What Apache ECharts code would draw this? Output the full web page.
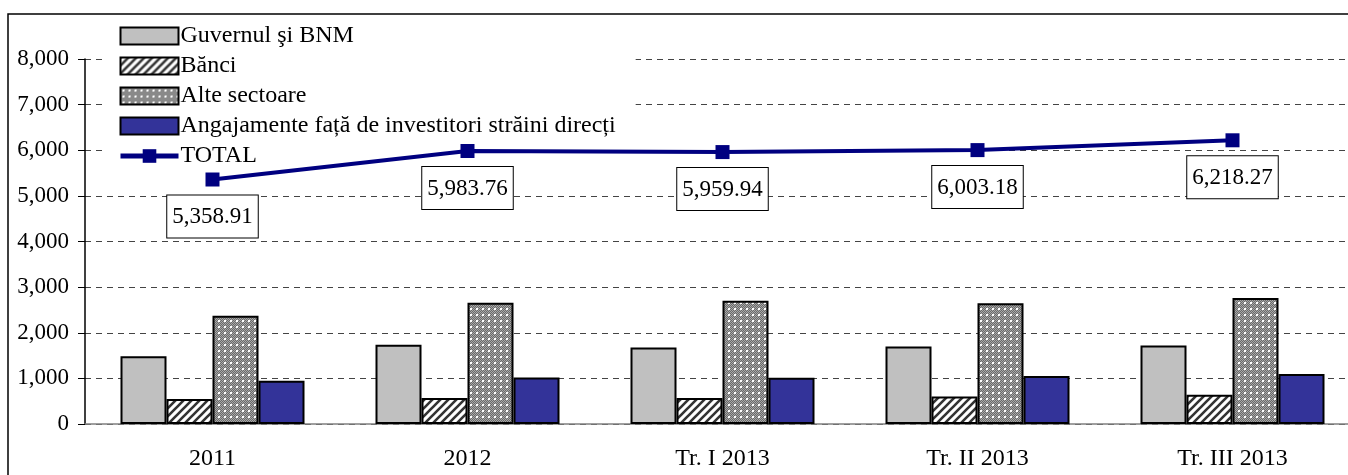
<!DOCTYPE html>
<html>
<head>
<meta charset="utf-8">
<script src="https://cdn.jsdelivr.net/npm/echarts@6/dist/echarts.min.js"></script>
<style>
  html, body { margin: 0; padding: 0; background: #fff; }
  #chart { width: 1348px; height: 475px; }
</style>
</head>
<body>
<div id="chart"></div>
<script>
// data
const categories = ['2011', '2012', 'Tr. I 2013', 'Tr. II 2013', 'Tr. III 2013']
const guvernul = [1485, 1735, 1675, 1700, 1720]
const banci = [550, 570, 570, 605, 640]
const alteSectoare = [2375, 2660, 2700, 2645, 2760]
const angajamente = [950, 1020, 1015, 1053, 1098]
const total = [5358.91, 5983.76, 5959.94, 6003.18, 6218.27]

const FONT = '"Liberation Serif", "DejaVu Serif", serif'

// hatched pattern for Banci
function hatch () {
  let c = document.createElement('canvas')
  c.width = 8
  c.height = 8
  let ctx = c.getContext('2d')
  ctx.fillStyle = '#fff'
  ctx.fillRect(0, 0, 8, 8)
  ctx.strokeStyle = '#333'
  ctx.lineWidth = 2.6
  ctx.beginPath()
  ctx.moveTo(-2, 10); ctx.lineTo(10, -2)
  ctx.moveTo(-6, 6); ctx.lineTo(6, -6)
  ctx.moveTo(2, 14); ctx.lineTo(14, 2)
  ctx.stroke()
  return c
}

// fine dotted grey pattern for Alte sectoare
function dots () {
  let c = document.createElement('canvas')
  c.width = 6
  c.height = 6
  let ctx = c.getContext('2d')
  for (let x = 0; x < 6; x++) {
    for (let y = 0; y < 6; y++) {
      ctx.fillStyle = (x + y) % 2 ? '#6a6a6a' : '#a8a8a8'
      ctx.fillRect(x, y, 1, 1)
    }
  }
  ctx.fillStyle = '#fff'
  ctx.fillRect(2, 2, 2, 2)
  return c
}

function fmt (v, d) {
  return v.toLocaleString('en-US', { minimumFractionDigits: d, maximumFractionDigits: d })
}

const barStyle = { borderColor: '#000', borderWidth: 2 }

let option = {
  backgroundColor: '#fff',
  animation: false,
  // plot runs past the right edge of the picture, like the cropped original
  grid: { left: 85, top: 59, width: 1275, height: 365, outerBoundsMode: 'none' },
  legend: {
    orient: 'vertical',
    left: 102,
    top: 22,
    itemWidth: 58,
    itemHeight: 17,
    itemGap: 6,
    backgroundColor: '#fff',
    padding: [2, 20, 2, 16],
    textStyle: {
      fontFamily: FONT, fontSize: 24, lineHeight: 23, color: '#000',
      padding: [0, 0, 0, -3]
    },
    data: [
      { name: 'Guvernul şi BNM', icon: 'rect' },
      { name: 'Bănci', icon: 'rect' },
      { name: 'Alte sectoare', icon: 'rect' },
      { name: 'Angajamente față de investitori străini direcți', icon: 'rect' },
      { name: 'TOTAL', lineStyle: { width: 5, color: '#000080' } }
    ]
  },
  xAxis: {
    type: 'category',
    data: categories,
    axisLine: { lineStyle: { color: '#808080', width: 1.5 } },
    axisTick: { length: 8, lineStyle: { color: '#808080' } },
    axisLabel: { fontFamily: FONT, fontSize: 24, color: '#000', margin: 23 }
  },
  yAxis: {
    type: 'value',
    min: 0,
    max: 8000,
    interval: 1000,
    axisLine: { show: true, lineStyle: { color: '#000', width: 1.5 } },
    axisTick: { show: true, length: 7, lineStyle: { color: '#000' } },
    axisLabel: {
      fontFamily: FONT, fontSize: 23, color: '#000', margin: 16,
      formatter: v => fmt(v, 0)
    },
    splitLine: { lineStyle: { color: '#444', type: [6, 5], width: 1 } }
  },
  series: [
    {
      name: 'Guvernul şi BNM', type: 'bar', data: guvernul,
      barWidth: 46, barGap: '0%',
      itemStyle: Object.assign({ color: '#c0c0c0' }, barStyle)
    },
    {
      name: 'Bănci', type: 'bar', data: banci, barWidth: 46, barGap: '0%',
      itemStyle: Object.assign({ color: { image: hatch(), repeat: 'repeat' } }, barStyle)
    },
    {
      name: 'Alte sectoare', type: 'bar', data: alteSectoare, barWidth: 46, barGap: '0%',
      itemStyle: Object.assign({ color: { image: dots(), repeat: 'repeat' } }, barStyle)
    },
    {
      name: 'Angajamente față de investitori străini direcți', type: 'bar',
      data: angajamente, barWidth: 46, barGap: '0%',
      itemStyle: Object.assign({ color: '#333399' }, barStyle)
    },
    {
      name: 'TOTAL', type: 'line', data: total,
      symbol: 'rect', symbolSize: 14,
      lineStyle: { color: '#000080', width: 4 },
      itemStyle: { color: '#000080' },
      z: 5,
      label: {
        show: true,
        position: 'bottom',
        distance: 9,
        fontFamily: FONT,
        fontSize: 23,
        color: '#000',
        backgroundColor: '#fff',
        borderColor: '#000',
        borderWidth: 1,
        padding: [10, 5, 9, 5],
        formatter: p => fmt(p.value, 2)
      }
    }
  ],
  graphic: [
    {
      type: 'rect',
      z: -1,
      shape: { x: 8, y: 14, width: 1400, height: 500 },
      style: { fill: 'none', stroke: '#000', lineWidth: 1.5 }
    }
  ]
}

let myChart = echarts.init(document.getElementById('chart'))
myChart.setOption(option)
</script>
</body>
</html>
